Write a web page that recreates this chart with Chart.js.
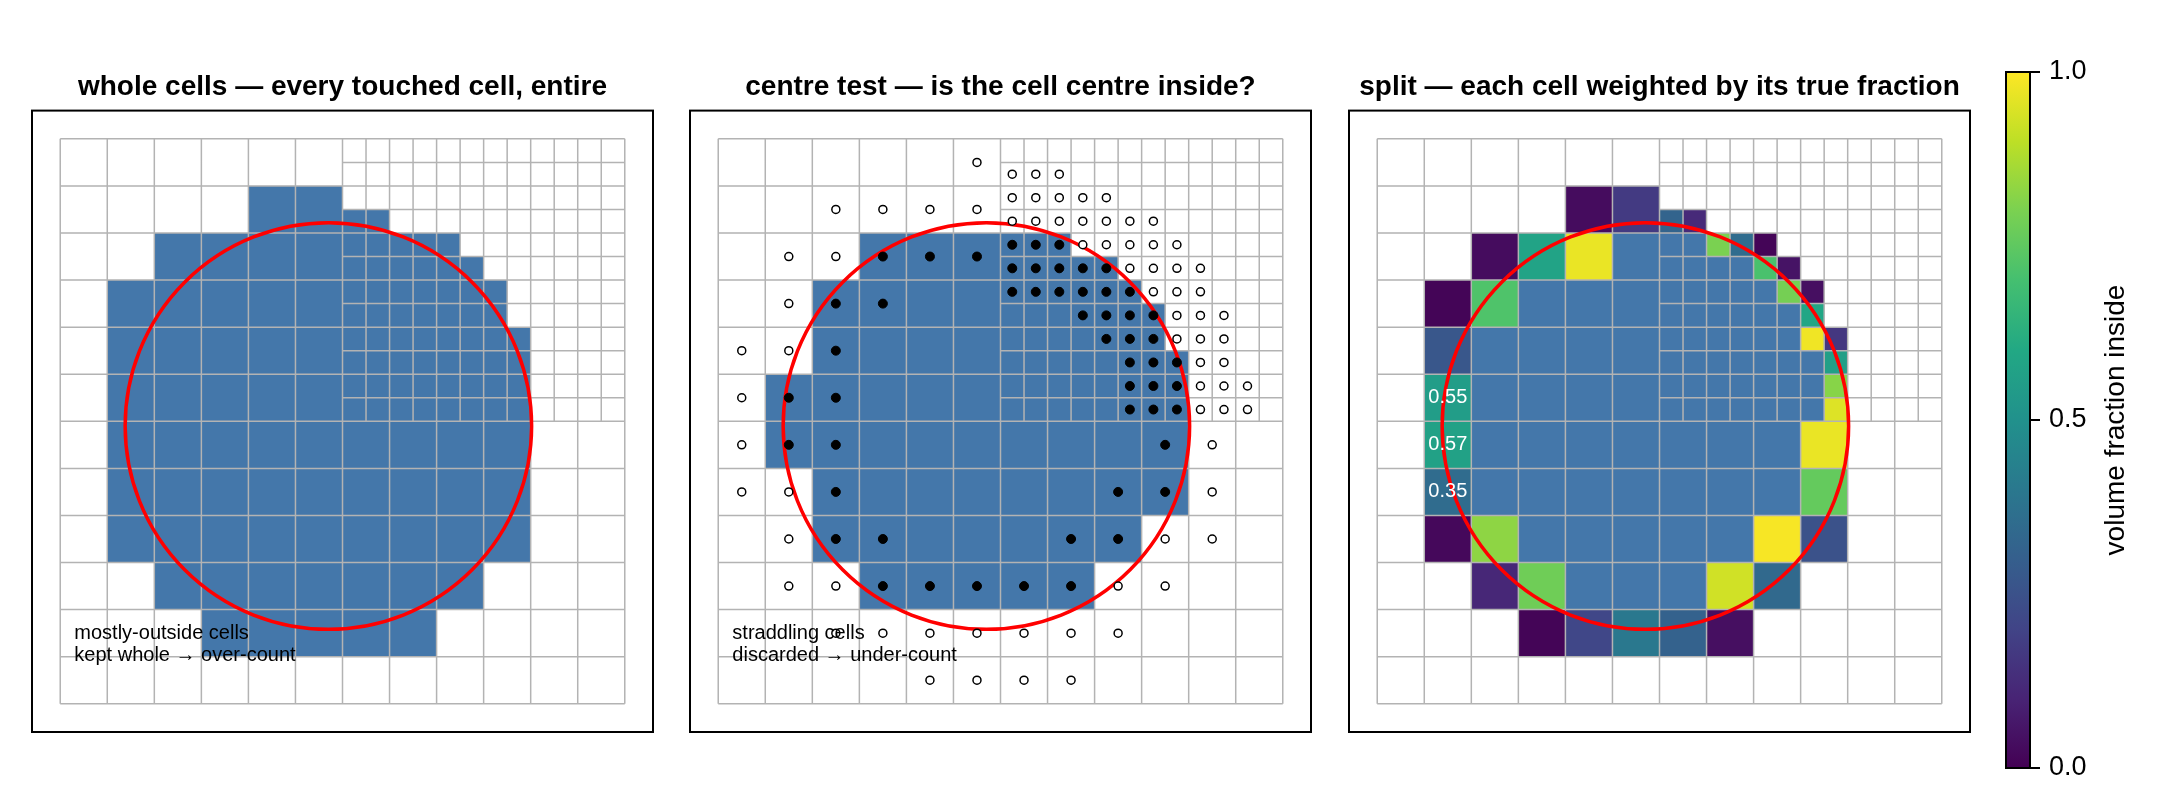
<!DOCTYPE html>
<html>
<head>
<meta charset="utf-8">
<title>cell volume fraction</title>
<script src="https://cdn.jsdelivr.net/npm/chart.js@4.4.1/dist/chart.umd.min.js"></script>
<style>
body{margin:0;background:#fff;}
#wrap{position:relative;width:2160px;height:800px;overflow:hidden;}
#wrap canvas{position:absolute;top:0;}
</style>
</head>
<body>
<div id="wrap">
<canvas id="whole" width="641" height="800" style="left:22px"></canvas>
<canvas id="centre" width="641" height="800" style="left:680px"></canvas>
<canvas id="split" width="641" height="800" style="left:1339px"></canvas>
<canvas id="cbar" width="170" height="800" style="left:1990px"></canvas>
</div>
<script>

// MESH: 12x12 unit cells, the top-right 6x6 block split in halves

const meshEdges = [0,1,2,3,4,5,6,7,8,9,10,11,12];
const fineEdges = [6.5,7.5,8.5,9.5,10.5,11.5];
const fineBlock = [6,12];

// CIRCLE

const circleCentre = [5.7,5.9];
const circleRadius = 4.32;

// TOUCHED CELLS  [y, [x of lower-left corners]]

const touchedCoarse = [
[10,[4,5]],
[9,[2,3,4,5]],
[8,[1,2,3,4,5]],
[7,[1,2,3,4,5]],
[6,[1,2,3,4,5]],
[5,[1,2,3,4,5,6,7,8,9]],
[4,[1,2,3,4,5,6,7,8,9]],
[3,[1,2,3,4,5,6,7,8,9]],
[2,[2,3,4,5,6,7,8]],
[1,[3,4,5,6,7]]
];

const touchedFine = [
[10,[6,6.5]],
[9.5,[6,6.5,7,7.5,8]],
[9,[6,6.5,7,7.5,8,8.5]],
[8.5,[6,6.5,7,7.5,8,8.5,9]],
[8,[6,6.5,7,7.5,8,8.5,9]],
[7.5,[6,6.5,7,7.5,8,8.5,9,9.5]],
[7,[6,6.5,7,7.5,8,8.5,9,9.5]],
[6.5,[6,6.5,7,7.5,8,8.5,9,9.5]],
[6,[6,6.5,7,7.5,8,8.5,9,9.5]]
];

// CELLS WHOSE CENTRE IS INSIDE

const centreCoarse = [
[9,[3,4,5]],
[8,[2,3,4,5]],
[7,[2,3,4,5]],
[6,[1,2,3,4,5]],
[5,[1,2,3,4,5,6,7,8,9]],
[4,[2,3,4,5,6,7,8,9]],
[3,[2,3,4,5,6,7,8]],
[2,[3,4,5,6,7]]
];

const centreFine = [
[9.5,[6,6.5,7]],
[9,[6,6.5,7,7.5,8]],
[8.5,[6,6.5,7,7.5,8,8.5]],
[8,[6,6.5,7,7.5,8,8.5,9]],
[7.5,[6,6.5,7,7.5,8,8.5,9]],
[7,[6,6.5,7,7.5,8,8.5,9,9.5]],
[6.5,[6,6.5,7,7.5,8,8.5,9,9.5]],
[6,[6,6.5,7,7.5,8,8.5,9,9.5]]
];

// STRADDLING CELL CENTRES

const keptCentres = [
[3.5,9.5],[4.5,9.5],[5.5,9.5],
[2.5,8.5],[3.5,8.5],
[2.5,7.5],
[1.5,6.5],[2.5,6.5],
[1.5,5.5],[2.5,5.5],[9.5,5.5],
[2.5,4.5],[8.5,4.5],[9.5,4.5],
[2.5,3.5],[3.5,3.5],[7.5,3.5],[8.5,3.5],
[3.5,2.5],[4.5,2.5],[5.5,2.5],[6.5,2.5],[7.5,2.5],
[6.25,9.75],[6.75,9.75],[7.25,9.75],
[6.25,9.25],[6.75,9.25],[7.25,9.25],[7.75,9.25],[8.25,9.25],
[6.25,8.75],[6.75,8.75],[7.25,8.75],[7.75,8.75],[8.25,8.75],[8.75,8.75],
[7.75,8.25],[8.25,8.25],[8.75,8.25],[9.25,8.25],
[8.25,7.75],[8.75,7.75],[9.25,7.75],
[8.75,7.25],[9.25,7.25],[9.75,7.25],
[8.75,6.75],[9.25,6.75],[9.75,6.75],
[8.75,6.25],[9.25,6.25],[9.75,6.25]
];

const droppedCentres = [
[5.5,11.5],
[2.5,10.5],[3.5,10.5],[4.5,10.5],[5.5,10.5],
[1.5,9.5],[2.5,9.5],
[1.5,8.5],
[0.5,7.5],[1.5,7.5],
[0.5,6.5],
[0.5,5.5],[10.5,5.5],
[0.5,4.5],[1.5,4.5],[10.5,4.5],
[1.5,3.5],[9.5,3.5],[10.5,3.5],
[1.5,2.5],[2.5,2.5],[8.5,2.5],[9.5,2.5],
[2.5,1.5],[3.5,1.5],[4.5,1.5],[5.5,1.5],[6.5,1.5],[7.5,1.5],[8.5,1.5],
[4.5,0.5],[5.5,0.5],[6.5,0.5],[7.5,0.5],
[6.25,11.25],[6.75,11.25],[7.25,11.25],
[6.25,10.75],[6.75,10.75],[7.25,10.75],[7.75,10.75],[8.25,10.75],
[6.25,10.25],[6.75,10.25],[7.25,10.25],[7.75,10.25],[8.25,10.25],[8.75,10.25],[9.25,10.25],
[7.75,9.75],[8.25,9.75],[8.75,9.75],[9.25,9.75],[9.75,9.75],
[8.75,9.25],[9.25,9.25],[9.75,9.25],[10.25,9.25],
[9.25,8.75],[9.75,8.75],[10.25,8.75],
[9.75,8.25],[10.25,8.25],[10.75,8.25],
[9.75,7.75],[10.25,7.75],[10.75,7.75],
[10.25,7.25],[10.75,7.25],
[10.25,6.75],[10.75,6.75],[11.25,6.75],
[10.25,6.25],[10.75,6.25],[11.25,6.25]
];

// FRACTION INSIDE FOR THE BOUNDARY CELLS  [x, y, fraction]

const splitCoarse = [
[4,10,0.03],[5,10,0.17],
[2,9,0.03],[3,9,0.58],[4,9,0.97],
[1,8,0.01],[2,8,0.72],
[1,7,0.27],
[1,6,0.55],
[1,5,0.57],[9,5,0.97],
[1,4,0.35],[9,4,0.76],
[1,3,0.02],[2,3,0.83],[8,3,0.99],[9,3,0.25],
[2,2,0.11],[3,2,0.78],[7,2,0.93],[8,2,0.34],
[3,1,0.01],[4,1,0.21],[5,1,0.40],[6,1,0.31],[7,1,0.04]
];

const splitFine = [
[6,10,0.32],[6.5,10,0.12],
[7,9.5,0.80],[7.5,9.5,0.35],[8,9.5,0.01],
[8,9,0.71],[8.5,9,0.05],
[8.5,8.5,0.79],[9,8.5,0.04],
[9,8,0.59],
[9,7.5,0.98],[9.5,7.5,0.16],
[9.5,7,0.56],
[9.5,6.5,0.82],
[9.5,6,0.95]
];

const labelledCells = [[1,6],[1,5],[1,4]];

const panelTitles = [
"whole cells \u2014 every touched cell, entire",
"centre test \u2014 is the cell centre inside?",
"split \u2014 each cell weighted by its true fraction"
];
const noteWhole = ["mostly-outside cells","kept whole \u2192 over-count"];
const noteCentre = ["straddling cells","discarded \u2192 under-count"];

const cbarTicks = [0,0.5,1];
const cbarLabel = "volume fraction inside";

// STYLE

const FONT = '"Liberation Sans", Arial, Helvetica, sans-serif';
const AX_MIN = -0.6, AX_MAX = 12.6;
const CELL_BLUE = "#4477AA";
const MESH_GREY = "#b3b3b3";
const viridisStops = ["#440154","#482475","#414487","#355f8d","#2a788e","#21918c","#22a884","#44bf70","#7ad151","#bddf26","#fde725"];
const noteX = 0.3;
const noteY = [1.5,1.02];

Chart.defaults.font.family = FONT;
Chart.defaults.color = "#000";

function hexRgb(h){
return [1,3,5].map(i=>parseInt(h.substr(i,2),16));
}

function viridis(t){
const n = viridisStops.length-1;
const p = Math.min(Math.max(t,0),1)*n;
const i = Math.min(Math.floor(p),n-1);
const f = p-i;
const a = hexRgb(viridisStops[i]), b = hexRgb(viridisStops[i+1]);
const c = a.map((v,k)=>Math.round(v+(b[k]-v)*f));
return "rgb("+c.join(",")+")";
}

function fillCell(chart,x,y,size,colour){
const sx = chart.scales.x, sy = chart.scales.y;
const l = sx.getPixelForValue(x), r = sx.getPixelForValue(x+size);
const t = sy.getPixelForValue(y+size), b = sy.getPixelForValue(y);
chart.ctx.fillStyle = colour;
chart.ctx.fillRect(l,t,r-l,b-t);
}

function eachCell(rows,fn){
rows.forEach(([y,xs])=>xs.forEach(x=>fn(x,y)));
}

function drawMesh(chart){
const ctx = chart.ctx, sx = chart.scales.x, sy = chart.scales.y;
const X = v=>sx.getPixelForValue(v), Y = v=>sy.getPixelForValue(v);
const lo = meshEdges[0], hi = meshEdges[meshEdges.length-1];
ctx.save();
ctx.strokeStyle = MESH_GREY;
ctx.lineWidth = 1.5;
ctx.beginPath();
meshEdges.forEach(v=>{
ctx.moveTo(X(v),Y(lo)); ctx.lineTo(X(v),Y(hi));
ctx.moveTo(X(lo),Y(v)); ctx.lineTo(X(hi),Y(v));
});
fineEdges.forEach(v=>{
ctx.moveTo(X(v),Y(fineBlock[0])); ctx.lineTo(X(v),Y(fineBlock[1]));
ctx.moveTo(X(fineBlock[0]),Y(v)); ctx.lineTo(X(fineBlock[1]),Y(v));
});
ctx.stroke();
ctx.restore();
}

function drawCircle(chart){
const ctx = chart.ctx, sx = chart.scales.x, sy = chart.scales.y;
const cx = sx.getPixelForValue(circleCentre[0]);
const cy = sy.getPixelForValue(circleCentre[1]);
const rx = sx.getPixelForValue(circleCentre[0]+circleRadius)-cx;
const ry = cy-sy.getPixelForValue(circleCentre[1]+circleRadius);
ctx.save();
ctx.strokeStyle = "#ff0000";
ctx.lineWidth = 3.5;
ctx.beginPath();
ctx.ellipse(cx,cy,rx,ry,0,0,Math.PI*2);
ctx.stroke();
ctx.restore();
}

function drawFrame(chart){
const a = chart.chartArea, ctx = chart.ctx;
ctx.save();
ctx.strokeStyle = "#000";
ctx.lineWidth = 2;
ctx.strokeRect(a.left,a.top,a.right-a.left,a.bottom-a.top);
ctx.restore();
}

function drawNote(chart,lines){
const ctx = chart.ctx, sx = chart.scales.x, sy = chart.scales.y;
ctx.save();
ctx.font = "20px "+FONT;
ctx.fillStyle = "#000";
ctx.textAlign = "left";
ctx.textBaseline = "middle";
lines.forEach((s,i)=>ctx.fillText(s,sx.getPixelForValue(noteX),sy.getPixelForValue(noteY[i])));
ctx.restore();
}

function panel(id,title,datasets,paint,after){
return new Chart(document.getElementById(id),{
type:"scatter",
data:{datasets:datasets},
options:{
responsive:false,
animation:false,
events:[],
layout:{padding:{left:10,right:10,top:0,bottom:68}},
scales:{
x:{type:"linear",min:AX_MIN,max:AX_MAX,display:false},
y:{type:"linear",min:AX_MIN,max:AX_MAX,display:false}
},
plugins:{
legend:{display:false},
tooltip:{enabled:false},
title:{
display:true,
text:title,
color:"#000",
font:{size:28,weight:"bold",family:FONT},
padding:{top:70,bottom:7}
}
}
},
plugins:[{
id:"cells",
beforeDatasetsDraw(chart){
chart.ctx.save();
paint(chart);
chart.ctx.restore();
drawMesh(chart);
drawCircle(chart);
},
afterDatasetsDraw(chart){
drawFrame(chart);
if(after) after(chart);
}
}]
});
}

// PANEL 1 - WHOLE CELLS

panel("whole",panelTitles[0],[],chart=>{
eachCell(touchedCoarse,(x,y)=>fillCell(chart,x,y,1,CELL_BLUE));
eachCell(touchedFine,(x,y)=>fillCell(chart,x,y,0.5,CELL_BLUE));
},chart=>drawNote(chart,noteWhole));

// PANEL 2 - CENTRE TEST

panel("centre",panelTitles[1],[
{
label:"kept",
data:keptCentres.map(([x,y])=>({x,y})),
pointRadius:4.5,
pointBackgroundColor:"#000",
pointBorderColor:"#000",
pointBorderWidth:1
},
{
label:"discarded",
data:droppedCentres.map(([x,y])=>({x,y})),
pointRadius:4,
pointBackgroundColor:"#fff",
pointBorderColor:"#000",
pointBorderWidth:1.5
}
],chart=>{
eachCell(centreCoarse,(x,y)=>fillCell(chart,x,y,1,CELL_BLUE));
eachCell(centreFine,(x,y)=>fillCell(chart,x,y,0.5,CELL_BLUE));
},chart=>drawNote(chart,noteCentre));

// PANEL 3 - SPLIT

const fracCoarse = {}, fracFine = {};
splitCoarse.forEach(([x,y,f])=>fracCoarse[x+","+y]=f);
splitFine.forEach(([x,y,f])=>fracFine[x+","+y]=f);

panel("split",panelTitles[2],[],chart=>{
eachCell(touchedCoarse,(x,y)=>{
const f = fracCoarse[x+","+y];
fillCell(chart,x,y,1,f===undefined?CELL_BLUE:viridis(f));
});
eachCell(touchedFine,(x,y)=>{
const f = fracFine[x+","+y];
fillCell(chart,x,y,0.5,f===undefined?CELL_BLUE:viridis(f));
});
},chart=>{
const ctx = chart.ctx, sx = chart.scales.x, sy = chart.scales.y;
ctx.save();
ctx.font = "20px "+FONT;
ctx.fillStyle = "#fff";
ctx.textAlign = "center";
ctx.textBaseline = "middle";
labelledCells.forEach(([x,y])=>{
ctx.fillText(fracCoarse[x+","+y].toFixed(2),sx.getPixelForValue(x+0.5),sy.getPixelForValue(y+0.5));
});
ctx.restore();
});

// COLOURBAR

new Chart(document.getElementById("cbar"),{
type:"scatter",
data:{datasets:[]},
options:{
responsive:false,
animation:false,
events:[],
layout:{padding:{left:16,right:0,top:72,bottom:32}},
scales:{
x:{display:false,min:0,max:1},
y:{
position:"right",
min:0,max:1,
afterFit(s){s.width=130;},
afterBuildTicks(s){s.ticks=cbarTicks.map(v=>({value:v}));},
ticks:{
callback:v=>Number(v).toFixed(1),
font:{size:27,family:FONT},
color:"#000",
padding:9
},
grid:{drawOnChartArea:false,drawTicks:true,tickLength:10,color:"#000",lineWidth:2},
border:{display:false}
}
},
plugins:{legend:{display:false},tooltip:{enabled:false}}
},
plugins:[{
id:"gradient",
beforeDatasetsDraw(chart){
const ctx = chart.ctx, sy = chart.scales.y, a = chart.chartArea;
const y0 = sy.getPixelForValue(0), y1 = sy.getPixelForValue(1);
const g = ctx.createLinearGradient(0,y0,0,y1);
viridisStops.forEach((c,i)=>g.addColorStop(i/(viridisStops.length-1),c));
ctx.save();
ctx.fillStyle = g;
ctx.fillRect(a.left,y1,a.right-a.left,y0-y1);
ctx.strokeStyle = "#000";
ctx.lineWidth = 2;
ctx.strokeRect(a.left,y1,a.right-a.left,y0-y1);
ctx.restore();
},
afterDraw(chart){
const ctx = chart.ctx, a = chart.chartArea;
ctx.save();
ctx.font = "28px "+FONT;
ctx.fillStyle = "#000";
ctx.textAlign = "center";
ctx.textBaseline = "middle";
ctx.translate(126,(a.top+a.bottom)/2);
ctx.rotate(-Math.PI/2);
ctx.fillText(cbarLabel,0,0);
ctx.restore();
}
}]
});

</script>
</body>
</html>
